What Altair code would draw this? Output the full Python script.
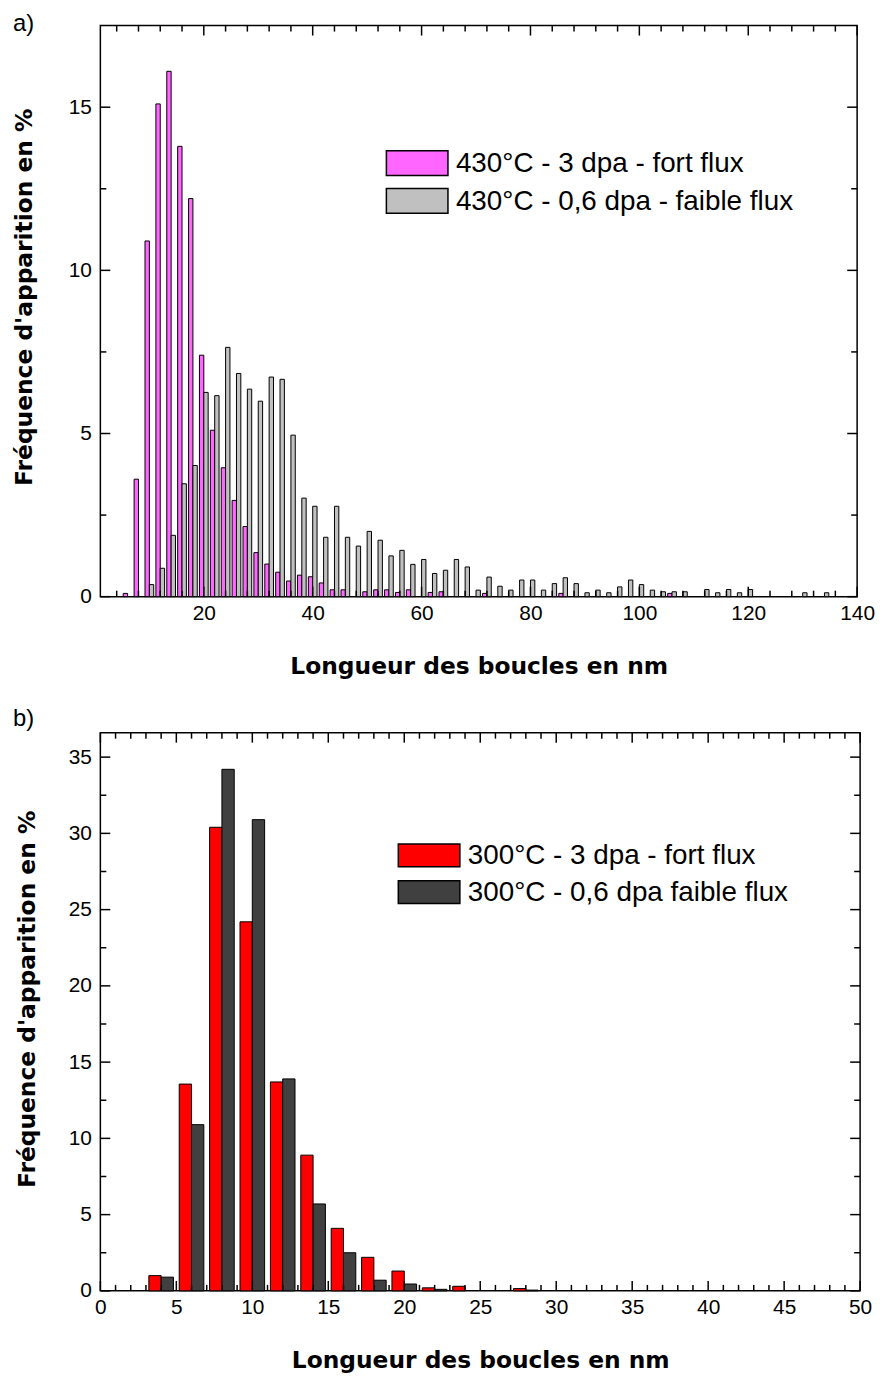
import altair as alt
import pandas as pd

# ---------------- Panel a) data (430 °C) ----------------
A_CENTERS = [6, 8, 10, 12, 14, 16, 18, 20, 22, 24, 26, 28, 30, 32, 34, 36, 38, 40, 42, 44,
             46, 48, 50, 52, 54, 56, 58, 60, 62, 64, 66, 68, 70, 72, 74, 76, 78, 80, 82, 84,
             86, 88, 90, 92, 94, 96, 98, 100, 102, 104, 106, 108, 110, 112, 114, 116, 118, 120,
             122, 124, 126, 128, 130, 132, 134, 136]
A_FORT = [0.1, 3.6, 10.9, 15.1, 16.1, 13.8, 12.2, 7.4, 5.1, 3.95, 2.95, 2.15, 1.35, 1.0, 0.75, 0.48,
          0.66, 0.61, 0.42, 0.21, 0.21, 0, 0.15, 0.21, 0.21, 0.13, 0.21, 0, 0.13, 0.15, 0, 0,
          0, 0.1, 0, 0, 0, 0, 0, 0, 0.1, 0, 0, 0, 0, 0, 0, 0, 0, 0, 0.1, 0,
          0, 0, 0, 0, 0, 0, 0, 0, 0, 0, 0, 0, 0, 0]
A_FAIBLE = [0, 0, 0.37, 0.87, 1.88, 3.46, 4.02, 6.26, 6.16, 7.64, 6.84, 6.36, 5.99, 6.73, 6.66, 4.95,
            3.02, 2.77, 1.82, 2.77, 1.82, 1.55, 2.0, 1.73, 1.25, 1.42, 0.99, 1.14, 0.71, 0.81, 1.14, 0.91,
            0.2, 0.6, 0.32, 0.2, 0.51, 0.51, 0.2, 0.4, 0.58, 0.4, 0.12, 0.2, 0.12, 0.3, 0.51, 0.37,
            0.2, 0.15, 0.15, 0.15, 0, 0.22, 0.12, 0.22, 0.12, 0.22, 0, 0, 0, 0, 0.12, 0, 0.12, 0]
A_SERIES = ["430°C - 3 dpa - fort flux", "430°C - 0,6 dpa - faible flux"]
A_COLORS = ["#FF66FF", "#C0C0C0"]
A_XLABELS = [20, 40, 60, 80, 100, 120, 140]
A_XMINOR = [4, 8, 12, 16, 24, 28, 32, 36, 44, 48, 52, 56, 64, 68, 72, 76, 84, 88, 92, 96,
            104, 108, 112, 116, 124, 128, 132, 136]
A_YLABELS = [0, 5, 10, 15]
A_YMINOR = [2.5, 7.5, 12.5]

# ---------------- Panel b) data (300 °C) ----------------
B_CENTERS = [4, 6, 8, 10, 12, 14, 16, 18, 20, 22, 24, 26, 28]
B_FORT = [1.0, 13.56, 30.4, 24.2, 13.7, 8.9, 4.1, 2.2, 1.3, 0.2, 0.3, 0, 0.15]
B_FAIBLE = [0.9, 10.9, 34.2, 30.9, 13.9, 5.7, 2.5, 0.7, 0.45, 0.1, 0, 0, 0.05]
B_SERIES = ["300°C - 3 dpa - fort flux", "300°C - 0,6 dpa faible flux"]
B_COLORS = ["#FF0000", "#404040"]
B_XLABELS = [0, 5, 10, 15, 20, 25, 30, 35, 40, 45, 50]
B_XMINOR = [v for v in range(1, 50) if v % 5 != 0]
B_YLABELS = [0, 5, 10, 15, 20, 25, 30, 35]
B_YMINOR = [2.5, 7.5, 12.5, 17.5, 22.5, 27.5, 32.5]

X_TITLE = "Longueur des boucles en nm"
Y_TITLE = "Fréquence d'apparition en %"

LABEL_FONT = "Liberation Sans"
TITLE_FONT = "DejaVu Sans"


def bars_df(centers, s1, s2, names, colors, w):
    rows = []
    for c, v1, v2 in zip(centers, s1, s2):
        if v1 > 0:
            rows.append({"series": names[0], "fill": colors[0], "x0": c - w, "x1": c, "v": v1, "base": 0})
        if v2 > 0:
            rows.append({"series": names[1], "fill": colors[1], "x0": c, "x1": c + w, "v": v2, "base": 0})
    return pd.DataFrame(rows)


def panel(df, names, colors, xdom, ydom, xlabels, xminor, ylabels, yminor,
          W, H, tag, tag_y, leg, title_y, ytitle_x, ytitle_y):
    xs = alt.Scale(domain=xdom, nice=False, zero=False)
    ys = alt.Scale(domain=ydom, nice=False, zero=True)
    xaxis = alt.Axis(
        values=xlabels, ticks=False, tickSize=0, domain=False, grid=False,
        labelFont=LABEL_FONT, labelFontSize=21, labelColor="black", labelPadding=6,
        labelFlush=False, labelOverlap=False, format="d",
        title=X_TITLE, titleFont=TITLE_FONT, titleFontSize=23.5, titleFontWeight="bold",
        titleColor="black", titleBaseline="top", titleY=title_y)
    yaxis = alt.Axis(
        values=ylabels, ticks=False, tickSize=0, domain=False, grid=False,
        labelFont=LABEL_FONT, labelFontSize=21, labelColor="black", labelPadding=9,
        labelFlush=False, labelOverlap=False, format="d",
        title=Y_TITLE, titleFont=TITLE_FONT, titleFontSize=23.5, titleFontWeight="bold",
        titleColor="black", titleX=ytitle_x, titleY=ytitle_y)

    bars = alt.Chart(df).mark_bar(stroke="black", strokeWidth=1).encode(
        x=alt.X("x0:Q", scale=xs, axis=xaxis),
        x2="x1:Q",
        y=alt.Y("v:Q", scale=ys, axis=yaxis),
        y2="base:Q",
        fill=alt.Fill("fill:N", scale=None),
    )
    layers = [bars]

    def xt(vals, length):
        d = pd.DataFrame({"v": vals})
        out = []
        for y1, y2 in ((H, H - length), (0, length)):
            out.append(alt.Chart(d).mark_rule(color="black", strokeWidth=1.5).encode(
                x=alt.X("v:Q", scale=xs, axis=xaxis), y=alt.value(y1), y2=alt.value(y2)))
        return out

    def yt(vals, length):
        d = pd.DataFrame({"v": vals})
        out = []
        for x1, x2 in ((0, length), (W, W - length)):
            out.append(alt.Chart(d).mark_rule(color="black", strokeWidth=1.5).encode(
                y=alt.Y("v:Q", scale=ys, axis=yaxis), x=alt.value(x1), x2=alt.value(x2)))
        return out

    layers += xt(xlabels, 10) + xt(xminor, 6) + yt(ylabels, 10) + yt(yminor, 6)

    # legend (drawn as swatches + labels)
    lx, ly, sw, sh, gap = leg
    for i, (name, col) in enumerate(zip(names, colors)):
        d = pd.DataFrame({"label": [name]})
        top = ly + i * gap
        layers.append(alt.Chart(d).mark_rect(fill=col, stroke="black", strokeWidth=1.5).encode(
            x=alt.value(lx), x2=alt.value(lx + sw), y=alt.value(top), y2=alt.value(top + sh)))
        layers.append(alt.Chart(d).mark_text(align="left", baseline="middle", font=LABEL_FONT,
                                             fontSize=28, color="black").encode(
            x=alt.value(lx + sw + 8), y=alt.value(top + sh / 2 + 1), text="label:N"))

    layers.append(alt.Chart(pd.DataFrame({"t": [tag]})).mark_text(
        align="left", baseline="middle", font=LABEL_FONT, fontSize=24, color="black").encode(
        x=alt.value(-88), y=alt.value(tag_y), text="t:N"))

    return alt.layer(*layers).properties(width=W, height=H)


df_a = bars_df(A_CENTERS, A_FORT, A_FAIBLE, A_SERIES, A_COLORS, 0.8)
df_b = bars_df(B_CENTERS, B_FORT, B_FAIBLE, B_SERIES, B_COLORS, 0.81)

top = panel(df_a, A_SERIES, A_COLORS, [1, 140], [0, 17.5], A_XLABELS, A_XMINOR,
            A_YLABELS, A_YMINOR, 762, 575, "a)", -2, (288, 126, 62, 25, 38), 58, -64, 273)
bottom = panel(df_b, B_SERIES, B_COLORS, [0, 50], [0, 36.6], B_XLABELS, B_XMINOR,
               B_YLABELS, B_YMINOR, 765, 562, "b)", -14, (300, 112, 62, 23, 37), 58, -61, 268)

chart = alt.vconcat(top, bottom, spacing=27).properties(
    padding={"left": 4, "top": -2, "right": 0, "bottom": 0}
).configure_view(stroke="black", strokeWidth=1.5)

chart.save("out.html", embed_options={"renderer": "svg", "actions": False})
